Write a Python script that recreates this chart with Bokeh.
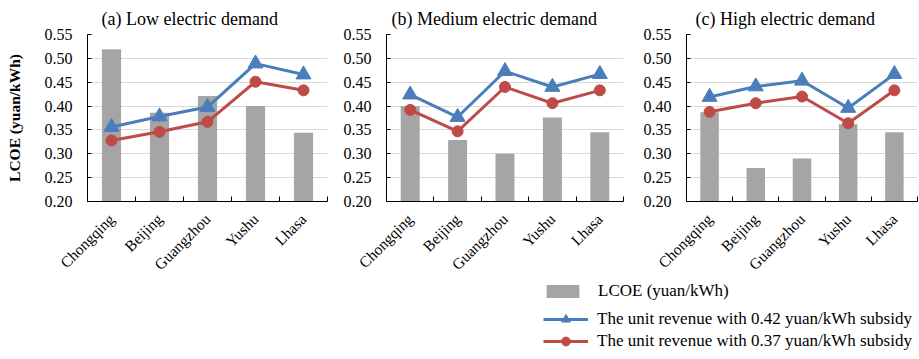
import numpy as np
from bokeh.plotting import figure
from bokeh.models import (Range1d, FixedTicker, CustomJSTickFormatter, NumeralTickFormatter,
                          Title, Legend, LegendItem, ColumnDataSource)
from bokeh.layouts import row, column
from bokeh.embed import file_html
from bokeh.resources import INLINE

# ---------------- data ----------------
cities = ["Chongqing", "Beijing", "Guangzhou", "Yushu", "Lhasa"]
panel_titles = ["(a) Low electric demand", "(b) Medium electric demand", "(c) High electric demand"]

lcoe_low = [0.519, 0.386, 0.421, 0.400, 0.344]
rev042_low = [0.356, 0.378, 0.398, 0.489, 0.466]
rev037_low = [0.328, 0.346, 0.367, 0.451, 0.433]

lcoe_med = [0.400, 0.329, 0.300, 0.376, 0.345]
rev042_med = [0.424, 0.377, 0.473, 0.440, 0.467]
rev037_med = [0.392, 0.347, 0.440, 0.406, 0.433]

lcoe_high = [0.387, 0.270, 0.290, 0.362, 0.345]
rev042_high = [0.419, 0.441, 0.453, 0.396, 0.467]
rev037_high = [0.388, 0.406, 0.420, 0.364, 0.433]

y_ticks = [0.20, 0.25, 0.30, 0.35, 0.40, 0.45, 0.50, 0.55]
y_label = "LCOE (yuan/kWh)"
legend_labels = ["LCOE (yuan/kWh)",
                 "The unit revenue with 0.42 yuan/kWh subsidy",
                 "The unit revenue with 0.37 yuan/kWh subsidy"]

# ---------------- style ----------------
FONT = "Liberation Serif"
BAR = "#A5A5A5"
BLUE = "#4A7EBB"
RED = "#BE4B48"
GRID = "#D9D9D9"
AXIS = "#000000"


def make_panel(title, lcoe, r42, r37, width, left, right, title_offset, with_label):
    n = len(cities)
    xs = [i + 0.5 for i in range(n)]
    src = ColumnDataSource(dict(x=xs, lcoe=lcoe, r42=r42, r37=r37))
    p = figure(width=width, height=282,
               x_range=Range1d(0, n), y_range=Range1d(y_ticks[0], y_ticks[-1]),
               toolbar_location=None, output_backend="svg",
               min_border_left=left, min_border_right=right,
               min_border_top=34, min_border_bottom=80)
    p.title = Title(text=title, align="left", offset=title_offset,
                    text_font=FONT, text_font_size="18px", text_font_style="normal",
                    text_color="#000000", standoff=12)
    p.outline_line_color = None
    p.background_fill_color = "white"
    p.border_fill_color = "white"

    p.vbar(x="x", top="lcoe", bottom=y_ticks[0], width=0.4, source=src,
           fill_color=BAR, line_color=None)
    p.line(x="x", y="r42", source=src, line_color=BLUE, line_width=3)
    p.scatter(x="x", y="r42", source=src, marker="triangle", size=15,
              fill_color=BLUE, line_color=BLUE)
    p.line(x="x", y="r37", source=src, line_color=RED, line_width=3)
    p.scatter(x="x", y="r37", source=src, marker="circle", size=11,
              fill_color=RED, line_color=RED)

    # x axis: labels at category centres, ticks at boundaries
    xa = p.xaxis[0]
    xa.ticker = FixedTicker(ticks=xs, minor_ticks=list(range(n + 1)))
    xa.formatter = CustomJSTickFormatter(args=dict(names=cities), code="""
        const i = Math.round(tick - 0.5);
        return (i >= 0 && i < names.length) ? names[i] : "";
    """)
    xa.major_label_orientation = np.pi / 4
    xa.major_tick_in = 0
    xa.major_tick_out = 0
    xa.minor_tick_in = 5
    xa.minor_tick_out = 0
    xa.minor_tick_line_color = AXIS
    xa.axis_line_color = AXIS
    xa.major_label_text_font = FONT
    xa.major_label_text_font_size = "15.5px"
    xa.major_label_text_color = "#000000"
    xa.major_label_standoff = 15

    ya = p.yaxis[0]
    ya.ticker = FixedTicker(ticks=y_ticks)
    ya.formatter = NumeralTickFormatter(format="0.00")
    ya.major_tick_in = 4
    ya.major_tick_out = 0
    ya.minor_tick_in = 0
    ya.minor_tick_out = 0
    ya.axis_line_color = AXIS
    ya.major_tick_line_color = AXIS
    ya.major_label_text_font = FONT
    ya.major_label_text_font_size = "16px"
    ya.major_label_text_color = "#000000"
    ya.major_label_standoff = 15
    if with_label:
        ya.axis_label = y_label
        ya.axis_label_text_font = FONT
        ya.axis_label_text_font_size = "15.5px"
        ya.axis_label_text_font_style = "bold"
        ya.axis_label_text_color = "#000000"
        ya.axis_label_standoff = 19

    p.xgrid.grid_line_color = None
    p.ygrid.ticker = FixedTicker(ticks=y_ticks)
    p.ygrid.grid_line_color = GRID
    p.ygrid.grid_line_width = 1
    return p, xs


p1, xs = make_panel(panel_titles[0], lcoe_low, rev042_low, rev037_low, 340, 87, 13, 14, True)
p2, _ = make_panel(panel_titles[1], lcoe_med, rev042_med, rev037_med, 300, 44, 17, 5, False)
p3, _ = make_panel(panel_titles[2], lcoe_high, rev042_high, rev037_high, 278, 43, 1, 9, False)

# ---------------- legend strip ----------------
# legend renderers reuse panel (c) data but sit far outside the strip's visible ranges
lf = figure(width=918, height=77, x_range=Range1d(-40, -39), y_range=Range1d(-40, -39),
            x_axis_location=None, y_axis_location=None, toolbar_location=None,
            output_backend="svg", min_border=0)
lf.outline_line_color = None
lf.xgrid.visible = False
lf.ygrid.visible = False
lsrc = ColumnDataSource(dict(x=xs, lcoe=lcoe_high, r42=rev042_high, r37=rev037_high))
rb = lf.vbar(x="x", top="lcoe", bottom=y_ticks[0], width=0.4, source=lsrc,
             fill_color=BAR, line_color=None)
rl1 = lf.line(x="x", y="r42", source=lsrc, line_color=BLUE, line_width=3)
rm1 = lf.scatter(x="x", y="r42", source=lsrc, marker="triangle", size=15,
                 fill_color=BLUE, line_color=BLUE)
rl2 = lf.line(x="x", y="r37", source=lsrc, line_color=RED, line_width=3)
rm2 = lf.scatter(x="x", y="r37", source=lsrc, marker="circle", size=11,
                 fill_color=RED, line_color=RED)

common = dict(padding=0, margin=0, border_line_color=None, background_fill_alpha=0,
              label_text_font=FONT, label_text_font_size="17px", label_text_color="#000000",
              spacing=0, label_height=10)
leg1 = Legend(items=[LegendItem(label=legend_labels[0], renderers=[rb])],
              location=(542, 58), glyph_width=41, glyph_height=16, label_standoff=15, **common)
leg2 = Legend(items=[LegendItem(label=legend_labels[1], renderers=[rl1, rm1]),
                     LegendItem(label=legend_labels[2], renderers=[rl2, rm2])],
              location=(543, 7), glyph_width=45, glyph_height=22, label_standoff=9, **common)
lf.add_layout(leg1)
lf.add_layout(leg2)

layout = column(row(p1, p2, p3), lf)
open("out.html", "w").write(file_html(layout, INLINE))
